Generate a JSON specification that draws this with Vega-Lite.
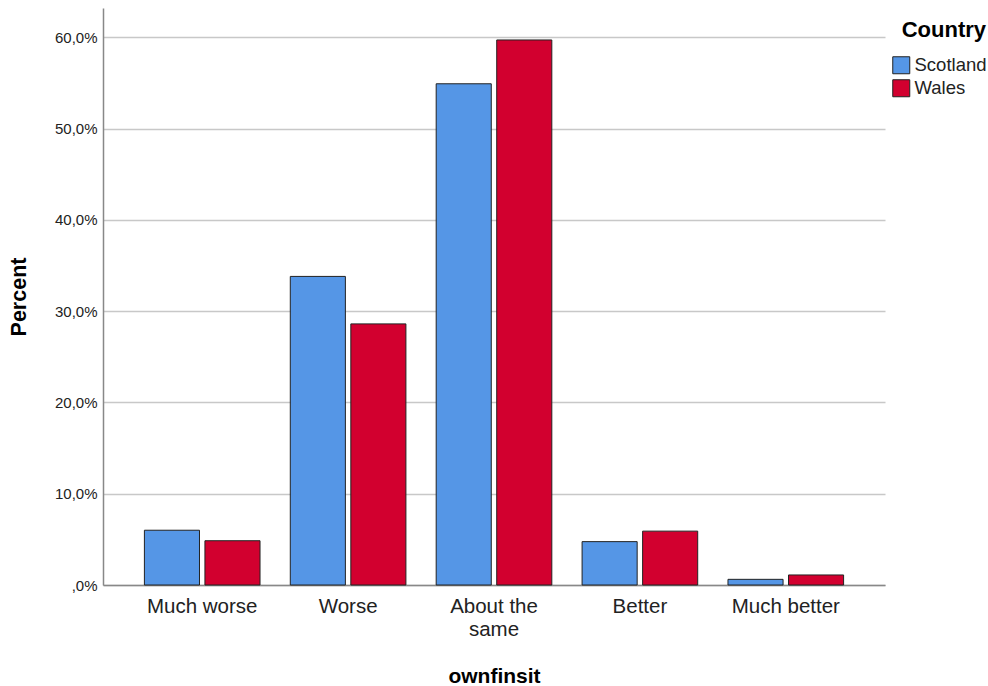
{
  "$schema": "https://vega.github.io/schema/vega-lite/v6.json",
  "autosize": "none",
  "width": 782,
  "height": 577,
  "padding": {"left": 103, "top": 8, "right": 103, "bottom": 101},
  "background": "white",
  "config": {
    "font": "Liberation Sans",
    "view": {"stroke": null}
  },
  "data": {
    "values": [
      {"ownfinsit": "Much worse", "Country": "Scotland", "Percent": 6.0},
      {"ownfinsit": "Much worse", "Country": "Wales", "Percent": 4.85},
      {"ownfinsit": "Worse", "Country": "Scotland", "Percent": 33.8},
      {"ownfinsit": "Worse", "Country": "Wales", "Percent": 28.6},
      {"ownfinsit": "About the same", "Country": "Scotland", "Percent": 54.9},
      {"ownfinsit": "About the same", "Country": "Wales", "Percent": 59.7},
      {"ownfinsit": "Better", "Country": "Scotland", "Percent": 4.75},
      {"ownfinsit": "Better", "Country": "Wales", "Percent": 5.9},
      {"ownfinsit": "Much better", "Country": "Scotland", "Percent": 0.62},
      {"ownfinsit": "Much better", "Country": "Wales", "Percent": 1.1}
    ]
  },
  "mark": {"type": "bar", "stroke": "#222222", "strokeWidth": 1},
  "encoding": {
    "x": {
      "field": "ownfinsit",
      "type": "nominal",
      "sort": ["Much worse", "Worse", "About the same", "Better", "Much better"],
      "scale": {"paddingInner": 0, "paddingOuter": 0.18},
      "axis": {
        "title": "ownfinsit",
        "titleFontSize": 21,
        "titleFontWeight": "bold",
        "titleColor": "#000000",
        "titlePadding": 26,
        "labelAngle": 0,
        "labelFontSize": 20.5,
        "labelColor": "#222222",
        "labelPadding": 11,
        "labelLineHeight": 23,
        "labelExpr": "datum.value == 'About the same' ? ['About the', 'same'] : datum.value",
        "ticks": false,
        "domainColor": "#888888",
        "domainWidth": 1.5,
        "grid": false
      }
    },
    "xOffset": {
      "field": "Country",
      "type": "nominal",
      "scale": {"paddingInner": 0.09, "paddingOuter": 0.25}
    },
    "y": {
      "field": "Percent",
      "type": "quantitative",
      "scale": {"domain": [0, 63.2], "nice": false},
      "axis": {
        "title": "Percent",
        "titleFontSize": 21.5,
        "titleFontWeight": "bold",
        "titleColor": "#000000",
        "titlePadding": 24,
        "values": [0, 10, 20, 30, 40, 50, 60],
        "labelExpr": "datum.value == 0 ? ',0%' : replace(format(datum.value, '.1f'), '.', ',') + '%'",
        "labelFontSize": 15,
        "labelColor": "#222222",
        "labelPadding": 6,
        "ticks": false,
        "domainColor": "#888888",
        "domainWidth": 1.5,
        "gridColor": "#c8c8c8",
        "gridWidth": 1.5
      }
    },
    "color": {
      "field": "Country",
      "type": "nominal",
      "scale": {"domain": ["Scotland", "Wales"], "range": ["#5596E6", "#D2002F"]},
      "legend": {
        "orient": "none",
        "legendX": 789,
        "legendY": 12,
        "title": "Country",
        "titleFontSize": 22,
        "titleFontWeight": "bold",
        "titleColor": "#000000",
        "titlePadding": 14,
        "titleAnchor": "end",
        "labelFontSize": 18.5,
        "labelColor": "#222222",
        "labelOffset": 4,
        "symbolType": "square",
        "symbolSize": 289,
        "symbolStrokeColor": "#222222",
        "symbolStrokeWidth": 1,
        "rowPadding": 1
      }
    }
  }
}
